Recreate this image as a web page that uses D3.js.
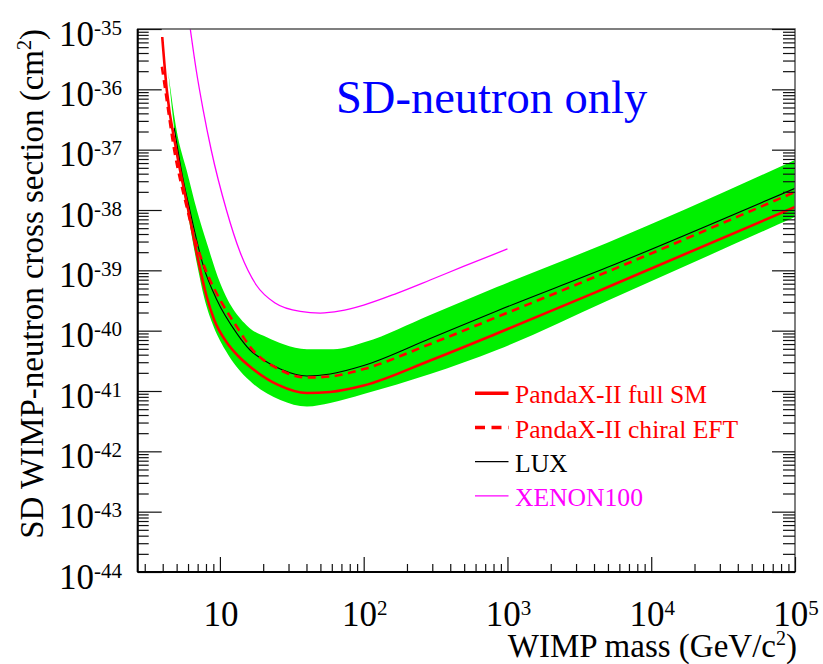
<!DOCTYPE html>
<html>
<head>
<meta charset="utf-8">
<script src="https://cdn.jsdelivr.net/npm/d3@7"></script>
<style>
  body { margin: 0; background: #fff; }
  svg { display: block; }
</style>
</head>
<body>
<svg id="chart" width="823" height="664"></svg>
<script>
// ---- Exclusion limits: WIMP mass (GeV/c^2) vs SD WIMP-neutron cross section (cm^2) ----

// PandaX-II, full shell-model structure functions (solid red)
const fullSmMass = [3.97, 4.27, 4.97, 6.02, 7.18, 8.03, 9.13, 11.1, 13.4, 16.2, 25.4, 40.3, 58.5, 100, 290, 844, 4912, 1e5];
const fullSmXsec = [7.37e-36, 9.75e-37, 9.87e-38, 1.0e-38, 1.22e-39, 3.9e-40, 1.5e-40, 6.49e-41, 3.8e-41, 2.53e-41, 1.26e-41, 9.26e-42, 9.62e-42, 1.23e-41, 3.2e-41, 8.97e-41, 5.19e-40, 1.12e-38];

// PandaX-II, chiral EFT structure functions (dashed red)
const chiralMass = [3.95, 4.17, 4.81, 5.83, 6.73, 8.12, 10.05, 13.1, 16.2, 26.3, 40.3, 58.5, 100, 290, 844, 4912, 1e5];
const chiralXsec = [2.37e-36, 9.75e-37, 9.87e-38, 1.21e-38, 3.18e-39, 9.03e-40, 3.22e-40, 1.16e-40, 5.42e-41, 2.23e-41, 1.67e-41, 1.74e-41, 2.31e-41, 6.01e-41, 1.68e-40, 9.38e-40, 1.99e-38];

// LUX (thin black)
const luxMass = [4.81, 5.47, 6.22, 7.69, 9.53, 13.1, 16.2, 20.1, 26.3, 40.3, 58.5, 100, 290, 844, 4912, 1e5];
const luxXsec = [2.29e-37, 3.8e-38, 9.26e-39, 1.15e-39, 3.22e-40, 9.04e-41, 4.78e-41, 3.26e-41, 2.31e-41, 1.77e-41, 1.91e-41, 2.64e-41, 7.41e-41, 2.12e-40, 1.11e-39, 2.29e-38];

// XENON100 (thin magenta)
const xenonMass = [6.22, 6.84, 7.65, 8.70, 11.1, 13.8, 17.9, 24.2, 36.2, 49.8, 68.6, 100, 170, 290, 494, 1000];
const xenonXsec = [1e-35, 2.09e-36, 4.54e-37, 9.87e-38, 1e-38, 2.01e-39, 5.71e-40, 2.87e-40, 2.08e-40, 1.96e-40, 2.12e-40, 2.66e-40, 4.16e-40, 6.91e-40, 1.16e-39, 2.26e-39];

// Sensitivity band (green): upper and lower edges
const bandUpperMass = [4.37, 5.02, 5.89, 6.92, 8.12, 10.05, 16.2, 21.2, 27.7, 40.3, 61.7, 102, 290, 844, 4912, 1e5];
const bandUpperXsec = [1.94e-36, 1.98e-37, 4.43e-38, 9.89e-39, 2.8e-39, 6.09e-40, 1.09e-40, 7.76e-41, 5.94e-41, 4.91e-41, 4.91e-41, 6.49e-41, 1.82e-40, 5.29e-40, 2.84e-39, 6.74e-38];
const bandLowerMass = [4.37, 4.73, 5.13, 5.92, 6.95, 7.78, 8.84, 10.9, 13.1, 16.2, 26.3, 40.3, 58.5, 100, 290, 844, 4912, 1e5];
const bandLowerXsec = [1.94e-36, 3.1e-37, 6.74e-38, 1.0e-38, 1.22e-39, 3.48e-40, 1.34e-40, 4.78e-41, 2.5e-41, 1.46e-41, 7.08e-42, 5.53e-42, 6.32e-42, 8.91e-42, 1.91e-41, 4.78e-41, 3.1e-40, 7.65e-39];

// Axis ranges and tick labels
const massRange = [2.68, 1e5];
const xsecRange = [1e-44, 1e-35];
const xTickValues = [10, 100, 1000, 1e4, 1e5];
const xTickExponents = ["", "2", "3", "4", "5"];
const yTickExponents = [-44, -43, -42, -41, -40, -39, -38, -37, -36, -35];

// Legend
const legendLabels = ["PandaX-II full SM", "PandaX-II chiral EFT", "LUX", "XENON100"];
const legendColors = ["#ff0000", "#ff0000", "#000000", "#ff00ff"];
const legendWidths = [3.6, 3.6, 1.2, 1.3];
const legendDash = [null, "10,6.5", null, null];

const bandColor = "#00f000";
const serif = "Liberation Serif";

// ---- Layout ----
const svg = d3.select("#chart");
const frame = { left: 137.7, right: 795, top: 29, bottom: 572 };

const x = d3.scaleLog().domain(massRange).range([frame.left, frame.right]);
const y = d3.scaleLog().domain(xsecRange).range([frame.bottom, frame.top]);

svg.append("defs").append("clipPath").attr("id", "plot-clip")
  .append("rect")
  .attr("x", frame.left).attr("y", frame.top)
  .attr("width", frame.right - frame.left).attr("height", frame.bottom - frame.top);

const plot = svg.append("g").attr("clip-path", "url(#plot-clip)");

const pairs = (ms, vs) => ms.map((m, i) => [m, vs[i]]);
const curve = d3.line()
  .x(d => x(d[0]))
  .y(d => y(d[1]))
  .curve(d3.curveMonotoneX);

// Green band: upper edge left-to-right, lower edge right-to-left
const upperPath = curve(pairs(bandUpperMass, bandUpperXsec));
const lowerPath = curve(pairs(bandLowerMass, bandLowerXsec).reverse());
plot.append("path")
  .attr("d", upperPath + "L" + lowerPath.slice(1) + "Z")
  .attr("fill", bandColor)
  .attr("stroke", "none");

plot.append("path")
  .attr("d", curve(pairs(xenonMass, xenonXsec)))
  .attr("fill", "none").attr("stroke", "#ff00ff").attr("stroke-width", 1.3);

plot.append("path")
  .attr("d", curve(pairs(luxMass, luxXsec)))
  .attr("fill", "none").attr("stroke", "#000").attr("stroke-width", 1.1);

plot.append("path")
  .attr("d", curve(pairs(chiralMass, chiralXsec)))
  .attr("fill", "none").attr("stroke", "#ff0000").attr("stroke-width", 2.6)
  .attr("stroke-dasharray", "8,5.5");

plot.append("path")
  .attr("d", curve(pairs(fullSmMass, fullSmXsec)))
  .attr("fill", "none").attr("stroke", "#ff0000").attr("stroke-width", 2.6);

// ---- Frame ----
svg.append("rect")
  .attr("x", frame.left).attr("y", frame.top)
  .attr("width", frame.right - frame.left).attr("height", frame.bottom - frame.top)
  .attr("fill", "none").attr("stroke", "#555").attr("stroke-width", 1.5);

// ---- Ticks ----
function minorTicks(domain) {
  const lo = Math.floor(Math.log10(domain[0])), hi = Math.ceil(Math.log10(domain[1]));
  const out = [];
  for (let d = lo; d < hi; d++) {
    for (let k = 2; k <= 9; k++) {
      const v = k * Math.pow(10, d);
      if (v >= domain[0] && v <= domain[1]) out.push(v);
    }
  }
  return out;
}
const yMajor = yTickExponents.map(e => Math.pow(10, e));
const yMinor = minorTicks(xsecRange);
const xMinor = minorTicks(massRange);

function drawAxis(gen, transform) {
  const g = svg.append("g").attr("transform", transform).call(gen);
  g.select(".domain").remove();
  g.selectAll(".tick line").attr("stroke", "#111").attr("stroke-width", 1.2);
  g.selectAll(".tick text").remove();
  return g;
}

// left (ticks pointing into the frame)
drawAxis(d3.axisRight(y).tickValues(yMajor).tickSize(24).tickFormat(""), `translate(${frame.left},0)`);
drawAxis(d3.axisRight(y).tickValues(yMinor).tickSize(11).tickFormat(""), `translate(${frame.left},0)`);
// right
drawAxis(d3.axisLeft(y).tickValues(yMajor).tickSize(23).tickFormat(""), `translate(${frame.right},0)`);
drawAxis(d3.axisLeft(y).tickValues(yMinor).tickSize(12).tickFormat(""), `translate(${frame.right},0)`);
// bottom
drawAxis(d3.axisTop(x).tickValues(xTickValues).tickSize(15).tickFormat(""), `translate(0,${frame.bottom})`);
drawAxis(d3.axisTop(x).tickValues(xMinor).tickSize(8).tickFormat(""), `translate(0,${frame.bottom})`);

// axis lines
svg.append("line")
  .attr("x1", frame.left).attr("x2", frame.left)
  .attr("y1", frame.top).attr("y2", frame.bottom)
  .attr("stroke", "#000").attr("stroke-width", 2);
svg.append("line")
  .attr("x1", frame.left).attr("x2", frame.right)
  .attr("y1", frame.bottom).attr("y2", frame.bottom)
  .attr("stroke", "#000").attr("stroke-width", 2);

// ---- Tick labels ----
const labelSize = 35, supSize = 21;

yTickExponents.forEach((e, i) => {
  const t = svg.append("text")
    .attr("x", 122).attr("y", y(yMajor[i]) + 16.5)
    .attr("text-anchor", "end")
    .style("font-family", serif)
    .attr("font-size", labelSize).attr("fill", "#000");
  t.append("tspan").text("10");
  t.append("tspan").attr("font-size", supSize).attr("dy", -11).text(String(e));
});

xTickValues.forEach((v, i) => {
  const t = svg.append("text")
    .attr("x", x(v) + 1).attr("y", 626)
    .attr("text-anchor", "middle")
    .style("font-family", serif)
    .attr("font-size", labelSize).attr("fill", "#000");
  t.append("tspan").text("10");
  if (xTickExponents[i]) t.append("tspan").attr("font-size", supSize).attr("dy", -11).text(xTickExponents[i]);
});

// ---- Axis titles ----
const yTitle = svg.append("text")
  .attr("transform", "rotate(-90)")
  .attr("x", -frame.top).attr("y", 43)
  .attr("text-anchor", "end")
  .style("font-family", serif)
  .attr("font-size", 33).attr("fill", "#000");
yTitle.append("tspan").text("SD WIMP-neutron cross section (cm");
yTitle.append("tspan").attr("font-size", 20).attr("dy", -12).text("2");
yTitle.append("tspan").attr("dy", 12).text(")");

const xTitle = svg.append("text")
  .attr("x", 797).attr("y", 657)
  .attr("text-anchor", "end")
  .style("font-family", serif)
  .attr("font-size", 33).attr("fill", "#000");
xTitle.append("tspan").text("WIMP mass (GeV/c");
xTitle.append("tspan").attr("font-size", 20).attr("dy", -12).text("2");
xTitle.append("tspan").attr("dy", 12).text(")");

// ---- Annotation ----
svg.append("text")
  .attr("x", 336).attr("y", 113)
  .style("font-family", serif)
  .attr("font-size", 46.5).attr("fill", "#0000ff")
  .text("SD-neutron only");

// ---- Legend ----
const legend = svg.append("g");
legendLabels.forEach((label, i) => {
  const ly = 393.3 + i * 34.2;
  legend.append("line")
    .attr("x1", 475).attr("x2", 508.5).attr("y1", ly).attr("y2", ly)
    .attr("stroke", legendColors[i]).attr("stroke-width", legendWidths[i])
    .attr("stroke-dasharray", legendDash[i]);
  legend.append("text")
    .attr("x", 515).attr("y", ly + 10)
    .style("font-family", serif)
    .attr("font-size", 25.6).attr("fill", legendColors[i])
    .text(label);
});
</script>
</body>
</html>
